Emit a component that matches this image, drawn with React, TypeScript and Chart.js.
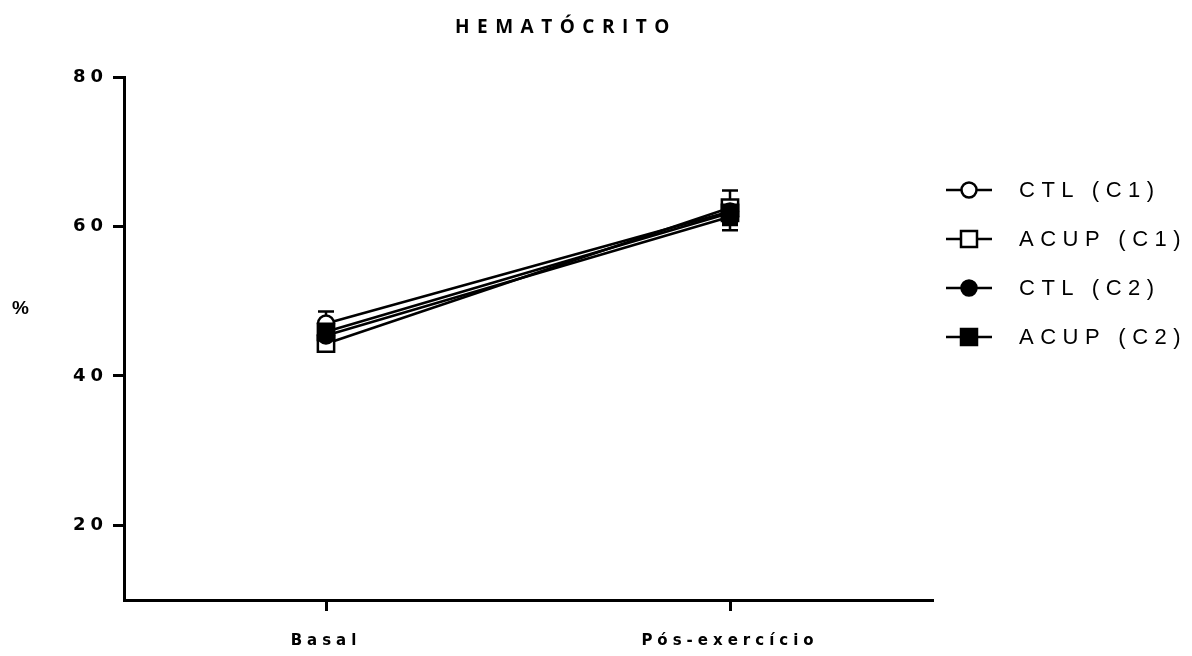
import React, { useEffect, useRef } from "react";
import { Chart, registerables } from "chart.js";

Chart.register(...registerables);

const categories = ["Basal", "Pós-exercício"];
const seriesNames = ["CTL (C1)", "ACUP (C1)", "CTL (C2)", "ACUP (C2)"];
const ctlC1 = [47.0, 62.0];
const ctlC1Err = [1.6, 1.4];
const acupC1 = [44.3, 62.5];
const acupC1Err = [0.9, 2.3];
const ctlC2 = [45.4, 61.3];
const ctlC2Err = [1.2, 1.8];
const acupC2 = [45.9, 61.8];
const acupC2Err = [1.2, 1.5];
const yTicks = [20, 40, 60, 80];

const seriesValues = [ctlC1, acupC1, ctlC2, acupC2];
const seriesErrors = [ctlC1Err, acupC1Err, ctlC2Err, acupC2Err];
const seriesShape = ["circle", "rect", "circle", "rect"];
const seriesFilled = [false, false, true, true];
const seriesOrder = [2, 3, 1, 0];

const errorBarPlugin = {
  id: "errorBars",
  beforeDatasetsDraw(chart: any) {
    const ctx = chart.ctx;
    const xs = chart.scales.x;
    const ys = chart.scales.y;
    ctx.save();
    ctx.strokeStyle = "#000";
    ctx.lineWidth = 2.5;
    chart.data.datasets.forEach((ds: any) => {
      ds.data.forEach((pt: any, i: number) => {
        const e = ds.errors[i];
        const x = xs.getPixelForValue(pt.x);
        const yt = ys.getPixelForValue(pt.y + e);
        const yb = ys.getPixelForValue(pt.y - e);
        ctx.beginPath();
        ctx.moveTo(x, yt);
        ctx.lineTo(x, yb);
        ctx.moveTo(x - 8, yt);
        ctx.lineTo(x + 8, yt);
        ctx.moveTo(x - 8, yb);
        ctx.lineTo(x + 8, yb);
        ctx.stroke();
      });
    });
    ctx.restore();
  },
};

const spacingPlugin = {
  id: "letterSpacing",
  beforeDraw(chart: any) {
    try {
      (chart.ctx as any).letterSpacing = "5px";
    } catch (e) {}
  },
};

function LegendIcon({ shape, filled }: { shape: string; filled: boolean }) {
  return (
    <svg width={50} height={24} style={{ display: "block" }}>
      <line x1={2} y1={12} x2={48} y2={12} stroke="#000" strokeWidth={2.5} />
      {shape === "circle" ? (
        <circle cx={25} cy={12} r={7.5} fill={filled ? "#000" : "#fff"} stroke="#000" strokeWidth={2.5} />
      ) : (
        <rect x={17} y={4} width={16} height={16} fill={filled ? "#000" : "#fff"} stroke="#000" strokeWidth={2.5} />
      )}
    </svg>
  );
}

export default function App() {
  const canvasRef = useRef<HTMLCanvasElement>(null);

  useEffect(() => {
    const gridOpts = {
      drawOnChartArea: false,
      drawTicks: true,
      tickLength: 11,
      lineWidth: 3,
      color: "#000",
    };
    const borderOpts = { display: true, width: 3, color: "#000" };
    const datasets = seriesNames.map((name, k) => ({
      label: name,
      data: seriesValues[k].map((y, i) => ({ x: i, y })),
      errors: seriesErrors[k],
      borderColor: "#000",
      borderWidth: 2.5,
      pointStyle: seriesShape[k],
      pointRadius: seriesShape[k] === "rect" ? 11.5 : 8,
      pointBackgroundColor: seriesFilled[k] ? "#000" : "#fff",
      pointBorderColor: "#000",
      pointBorderWidth: 2.5,
      order: seriesOrder[k],
      fill: false,
      tension: 0,
    }));
    const chart = new Chart(canvasRef.current as HTMLCanvasElement, {
      type: "line",
      data: { datasets } as any,
      options: {
        animation: false,
        responsive: false,
        events: [],
        layout: { padding: { left: 0, top: 77, right: 260, bottom: 0 } },
        plugins: {
          legend: { display: false },
          tooltip: { enabled: false },
          title: { display: false },
        },
        scales: {
          x: {
            type: "linear",
            min: -0.5,
            max: 1.5,
            afterBuildTicks: (s: any) => {
              s.ticks = categories.map((_, i) => ({ value: i }));
            },
            afterFit: (s: any) => {
              s.height = 56;
            },
            ticks: {
              callback: (v: any) => categories[v] ?? "",
              font: { family: "DejaVu Sans", weight: "bold", size: 15 },
              color: "#000",
              padding: 21,
              maxRotation: 0,
              autoSkip: false,
            },
            grid: gridOpts,
            border: borderOpts,
          },
          y: {
            min: 10,
            max: 80,
            afterBuildTicks: (s: any) => {
              s.ticks = yTicks.map((v) => ({ value: v }));
            },
            afterFit: (s: any) => {
              s.width = 124;
            },
            ticks: {
              font: { family: "DejaVu Sans", weight: "bold", size: 18 },
              color: "#000",
              padding: 5,
            },
            grid: gridOpts,
            border: borderOpts,
          },
        },
      } as any,
      plugins: [errorBarPlugin, spacingPlugin],
    });
    return () => chart.destroy();
  }, []);

  return (
    <div
      style={{
        position: "fixed",
        left: 0,
        top: 0,
        width: 1192,
        height: 656,
        background: "#fff",
        overflow: "hidden",
      }}
    >
      <canvas ref={canvasRef} width={1192} height={656} style={{ display: "block", width: 1192, height: 656 }} />
      <div
        style={{
          position: "absolute",
          left: 455,
          top: 17,
          fontFamily: "'Open Sans', sans-serif",
          fontWeight: 700,
          fontSize: 19,
          lineHeight: 1,
          letterSpacing: "7.5px",
          whiteSpace: "nowrap",
          color: "#000",
        }}
      >
        HEMATÓCRITO
      </div>
      <div
        style={{
          position: "absolute",
          left: 12,
          top: 298,
          fontFamily: "'Liberation Sans', Arial, sans-serif",
          fontWeight: 700,
          fontSize: 19,
          lineHeight: 1,
          color: "#000",
        }}
      >
        %
      </div>
      {seriesNames.map((name, k) => (
        <div
          key={name}
          style={{
            position: "absolute",
            left: 944,
            top: 178 + k * 49,
            height: 24,
            display: "flex",
            alignItems: "center",
            whiteSpace: "nowrap",
          }}
        >
          <LegendIcon shape={seriesShape[k]} filled={seriesFilled[k]} />
          <span
            style={{
              marginLeft: 25,
              fontFamily: "'Liberation Sans', Arial, sans-serif",
              fontSize: 22,
              lineHeight: "24px",
              letterSpacing: "6.5px",
              color: "#000",
            }}
          >
            {name}
          </span>
        </div>
      ))}
    </div>
  );
}
